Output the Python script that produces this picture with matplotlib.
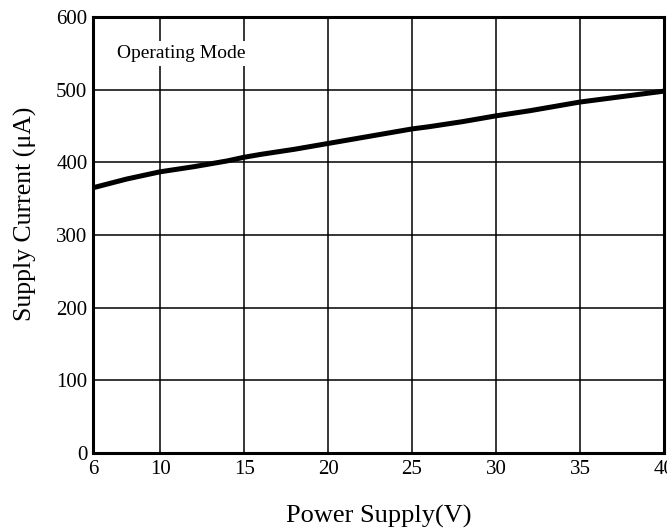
import numpy as np
import matplotlib
matplotlib.use("Agg")
import matplotlib.pyplot as plt

# supply current vs supply voltage
voltage = [6, 7, 8, 9, 10, 12, 14, 15, 16, 18, 20, 22, 24, 25, 26, 28, 30, 32, 34, 35, 36, 38, 40]
current = [365, 371, 377, 382, 387, 394, 402, 407, 411, 418, 426, 434, 442, 446, 449, 456, 464, 471, 479, 483, 486, 492, 498]

x_ticks = [6, 10, 15, 20, 25, 30, 35, 40]
y_ticks = [0, 100, 200, 300, 400, 500, 600]

plt.rcParams['font.family'] = ['Liberation Serif', 'DejaVu Serif']

fig = plt.figure(figsize=(6.67, 5.32), dpi=100)
ax = fig.add_axes([0.1394, 0.1485, 0.856, 0.8195])

ax.plot(voltage, current, color='black', linewidth=3.6, solid_capstyle='butt', zorder=3)

ax.set_xlim(6, 40)
ax.set_ylim(0, 600)
ax.set_xticks(x_ticks)
ax.set_yticks(y_ticks)
ax.grid(True, color='black', linewidth=1.1)
ax.tick_params(length=0, labelsize=15, colors='black')
ax.tick_params(axis='x', pad=5)
ax.tick_params(axis='y', pad=4)
for s in ax.spines.values():
    s.set_linewidth(2.2)

ax.set_xlabel('Power Supply(V)', fontsize=19, labelpad=19)
ax.set_ylabel('Supply Current (μA)', fontsize=18.5, labelpad=14)
ax.yaxis.label.set_y(0.548)  # label sits a bit above the axes centre

ax.text(7.43, 550, 'Operating Mode', fontsize=14, va='center', ha='left',
        bbox=dict(facecolor='white', edgecolor='none', pad=3), zorder=4)

plt.savefig('out.png', dpi=100)
